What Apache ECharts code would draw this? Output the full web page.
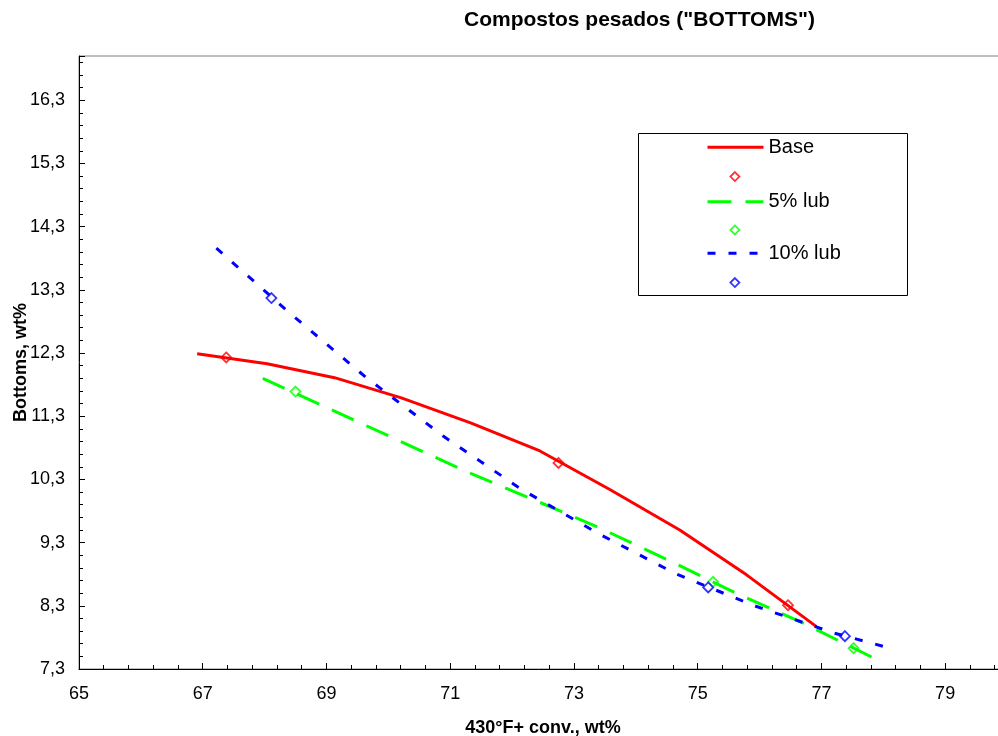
<!DOCTYPE html>
<html>
<head>
<meta charset="utf-8">
<script src="https://cdn.jsdelivr.net/npm/echarts@6/dist/echarts.min.js"></script>
<style>
  html, body { margin: 0; padding: 0; background: #ffffff; }
  #chart { width: 998px; height: 736px; }
</style>
</head>
<body>
<div id="chart"></div>
<script>
// Base (sem lubrificante): fitted curve and measured points
const baseCurveX = [66.91, 68.04, 69.13, 70.21, 71.34, 72.45, 73.58, 74.71, 75.79, 76.92];
const baseCurveY = [12.29, 12.13, 11.91, 11.59, 11.19, 10.75, 10.14, 9.50, 8.79, 7.97];
const basePointsX = [67.38, 72.75, 76.46];
const basePointsY = [12.23, 10.56, 8.31];

// 5% lub
const lub5CurveX = [67.97, 69.13, 70.18, 71.27, 72.37, 73.42, 74.55, 75.60, 76.70, 77.81];
const lub5CurveY = [11.90, 11.38, 10.91, 10.42, 9.97, 9.53, 9.01, 8.51, 8.03, 7.49];
const lub5PointsX = [68.50, 75.25, 77.52];
const lub5PointsY = [11.69, 8.68, 7.63];

// 10% lub
const lub10CurveX = [67.22, 68.41, 69.62, 70.88, 72.14, 73.40, 74.66, 75.92, 77.20, 78.07];
const lub10CurveY = [13.96, 12.93, 11.93, 10.99, 10.15, 9.44, 8.80, 8.30, 7.87, 7.64];
const lub10PointsX = [68.11, 75.17, 77.38];
const lub10PointsY = [13.17, 8.59, 7.82];

// Axis ranges and steps
const xMin = 65, xMax = 80, xStep = 2;
const yMin = 7.3, yMax = 17.0, yStep = 1;

const seriesNames = ['Base', '5% lub', '10% lub'];
const pointNames = ['Base pts', '5% lub pts', '10% lub pts'];

const FONT = '"Liberation Sans", Arial, sans-serif';
const RED = '#ff0000', GREEN = '#00ff00', BLUE = '#0000ff';

const pairs = (xs, ys) => xs.map((x, i) => [x, ys[i]]);
const comma = v => (Math.round(v * 10) / 10).toFixed(1).replace('.', ',');

const curveStyles = [
  { color: RED, width: 3, type: 'solid' },
  { color: GREEN, width: 3, type: [24, 14] },
  { color: BLUE, width: 3, type: [8, 13] }
];
const colors = [RED, GREEN, BLUE];
const curves = [
  pairs(baseCurveX, baseCurveY),
  pairs(lub5CurveX, lub5CurveY),
  pairs(lub10CurveX, lub10CurveY)
];
const points = [
  pairs(basePointsX, basePointsY),
  pairs(lub5PointsX, lub5PointsY),
  pairs(lub10PointsX, lub10PointsY)
];

const series = [];
for (let i = 0; i < 3; i++) {
  series.push({
    name: seriesNames[i],
    type: 'line',
    data: curves[i],
    symbol: 'none',
    lineStyle: { color: curveStyles[i].color, width: curveStyles[i].width, type: curveStyles[i].type, cap: 'butt' },
    itemStyle: { color: colors[i] },
    silent: true
  });
  series.push({
    name: pointNames[i],
    type: 'scatter',
    data: points[i],
    symbol: 'diamond',
    symbolSize: 10,
    itemStyle: { color: '#ffffff', borderColor: colors[i], borderWidth: 1.8 },
    silent: true
  });
}

// Legend rows: line sample with text, then the hollow marker below it
const legendLeft = 706;
const markCenterX = 734;
const lineRowCenters = [147.3, 201.7, 253.3];
const markRowCenters = [175.7, 229, 281.7];
const legends = [];
for (let i = 0; i < 3; i++) {
  legends.push({
    data: [{
      name: seriesNames[i],
      itemStyle: { opacity: 0, color: 'transparent', borderWidth: 0 },
      lineStyle: { color: curveStyles[i].color, width: 3, type: curveStyles[i].type, cap: 'butt' }
    }],
    left: legendLeft,
    top: lineRowCenters[i] - 12,
    orient: 'vertical',
    padding: 0,
    itemWidth: 56,
    itemHeight: 24,
    selectedMode: false,
    textStyle: { fontFamily: FONT, fontSize: 20, lineHeight: 24, color: '#000000' }
  });
  legends.push({
    data: [{
      name: pointNames[i],
      icon: 'diamond',
      itemStyle: { color: '#ffffff', borderColor: colors[i], borderWidth: 1.8 }
    }],
    formatter: () => '',
    left: markCenterX - 4.5,
    top: markRowCenters[i] - 4.5,
    orient: 'vertical',
    padding: 0,
    itemWidth: 9,
    itemHeight: 9,
    selectedMode: false,
    textStyle: { fontFamily: FONT, fontSize: 8, lineHeight: 8 }
  });
}

const chart = echarts.init(document.getElementById('chart'), null, { renderer: 'canvas' });
chart.setOption({
  animation: false,
  backgroundColor: '#ffffff',
  title: {
    text: 'Compostos pesados ("BOTTOMS")',
    left: 464,
    top: 10,
    padding: 0,
    textStyle: { fontFamily: FONT, fontSize: 21, fontWeight: 'bold', color: '#000000' }
  },
  legend: legends,
  graphic: [{
    type: 'rect',
    z: 3,
    shape: { x: 638.5, y: 133.5, width: 269, height: 162 },
    style: { fill: '#ffffff', stroke: '#000000', lineWidth: 1 }
  }],
  grid: {
    left: 79,
    top: 56,
    right: -9,
    bottom: 67,
    containLabel: false,
    outerBoundsMode: 'none',
    show: true,
    borderColor: '#808080',
    borderWidth: 1,
    backgroundColor: 'transparent'
  },
  xAxis: {
    type: 'value',
    min: xMin,
    max: xMax,
    interval: xStep,
    name: '430°F+ conv., wt%',
    nameLocation: 'middle',
    nameGap: 50,
    nameMoveOverlap: false,
    nameTextStyle: { fontFamily: FONT, fontSize: 18, fontWeight: 'bold', color: '#000000' },
    axisLine: { show: true, onZero: false, lineStyle: { color: '#000000', width: 1 } },
    axisTick: { show: true, inside: true, length: 6, lineStyle: { color: '#000000' } },
    minorTick: { show: true, splitNumber: 5, length: 4, lineStyle: { color: '#000000' } },
    splitLine: { show: false },
    axisLabel: {
      margin: 16,
      showMaxLabel: false,
      fontFamily: FONT,
      fontSize: 18,
      color: '#000000',
      formatter: v => String(Math.round(v))
    }
  },
  yAxis: {
    type: 'value',
    min: yMin,
    max: yMax,
    interval: yStep,
    name: 'Bottoms, wt%',
    nameLocation: 'middle',
    nameGap: 49,
    nameMoveOverlap: false,
    nameRotate: 90,
    nameTextStyle: { fontFamily: FONT, fontSize: 18, fontWeight: 'bold', color: '#000000' },
    axisLine: { show: true, onZero: false, lineStyle: { color: '#000000', width: 1 } },
    axisTick: { show: true, inside: true, length: 6, lineStyle: { color: '#000000' } },
    minorTick: { show: true, splitNumber: 5, length: 4, lineStyle: { color: '#000000' } },
    splitLine: { show: false },
    axisLabel: {
      margin: 14,
      showMaxLabel: false,
      fontFamily: FONT,
      fontSize: 18,
      color: '#000000',
      formatter: v => comma(v)
    }
  },
  series: series
});
</script>
</body>
</html>
